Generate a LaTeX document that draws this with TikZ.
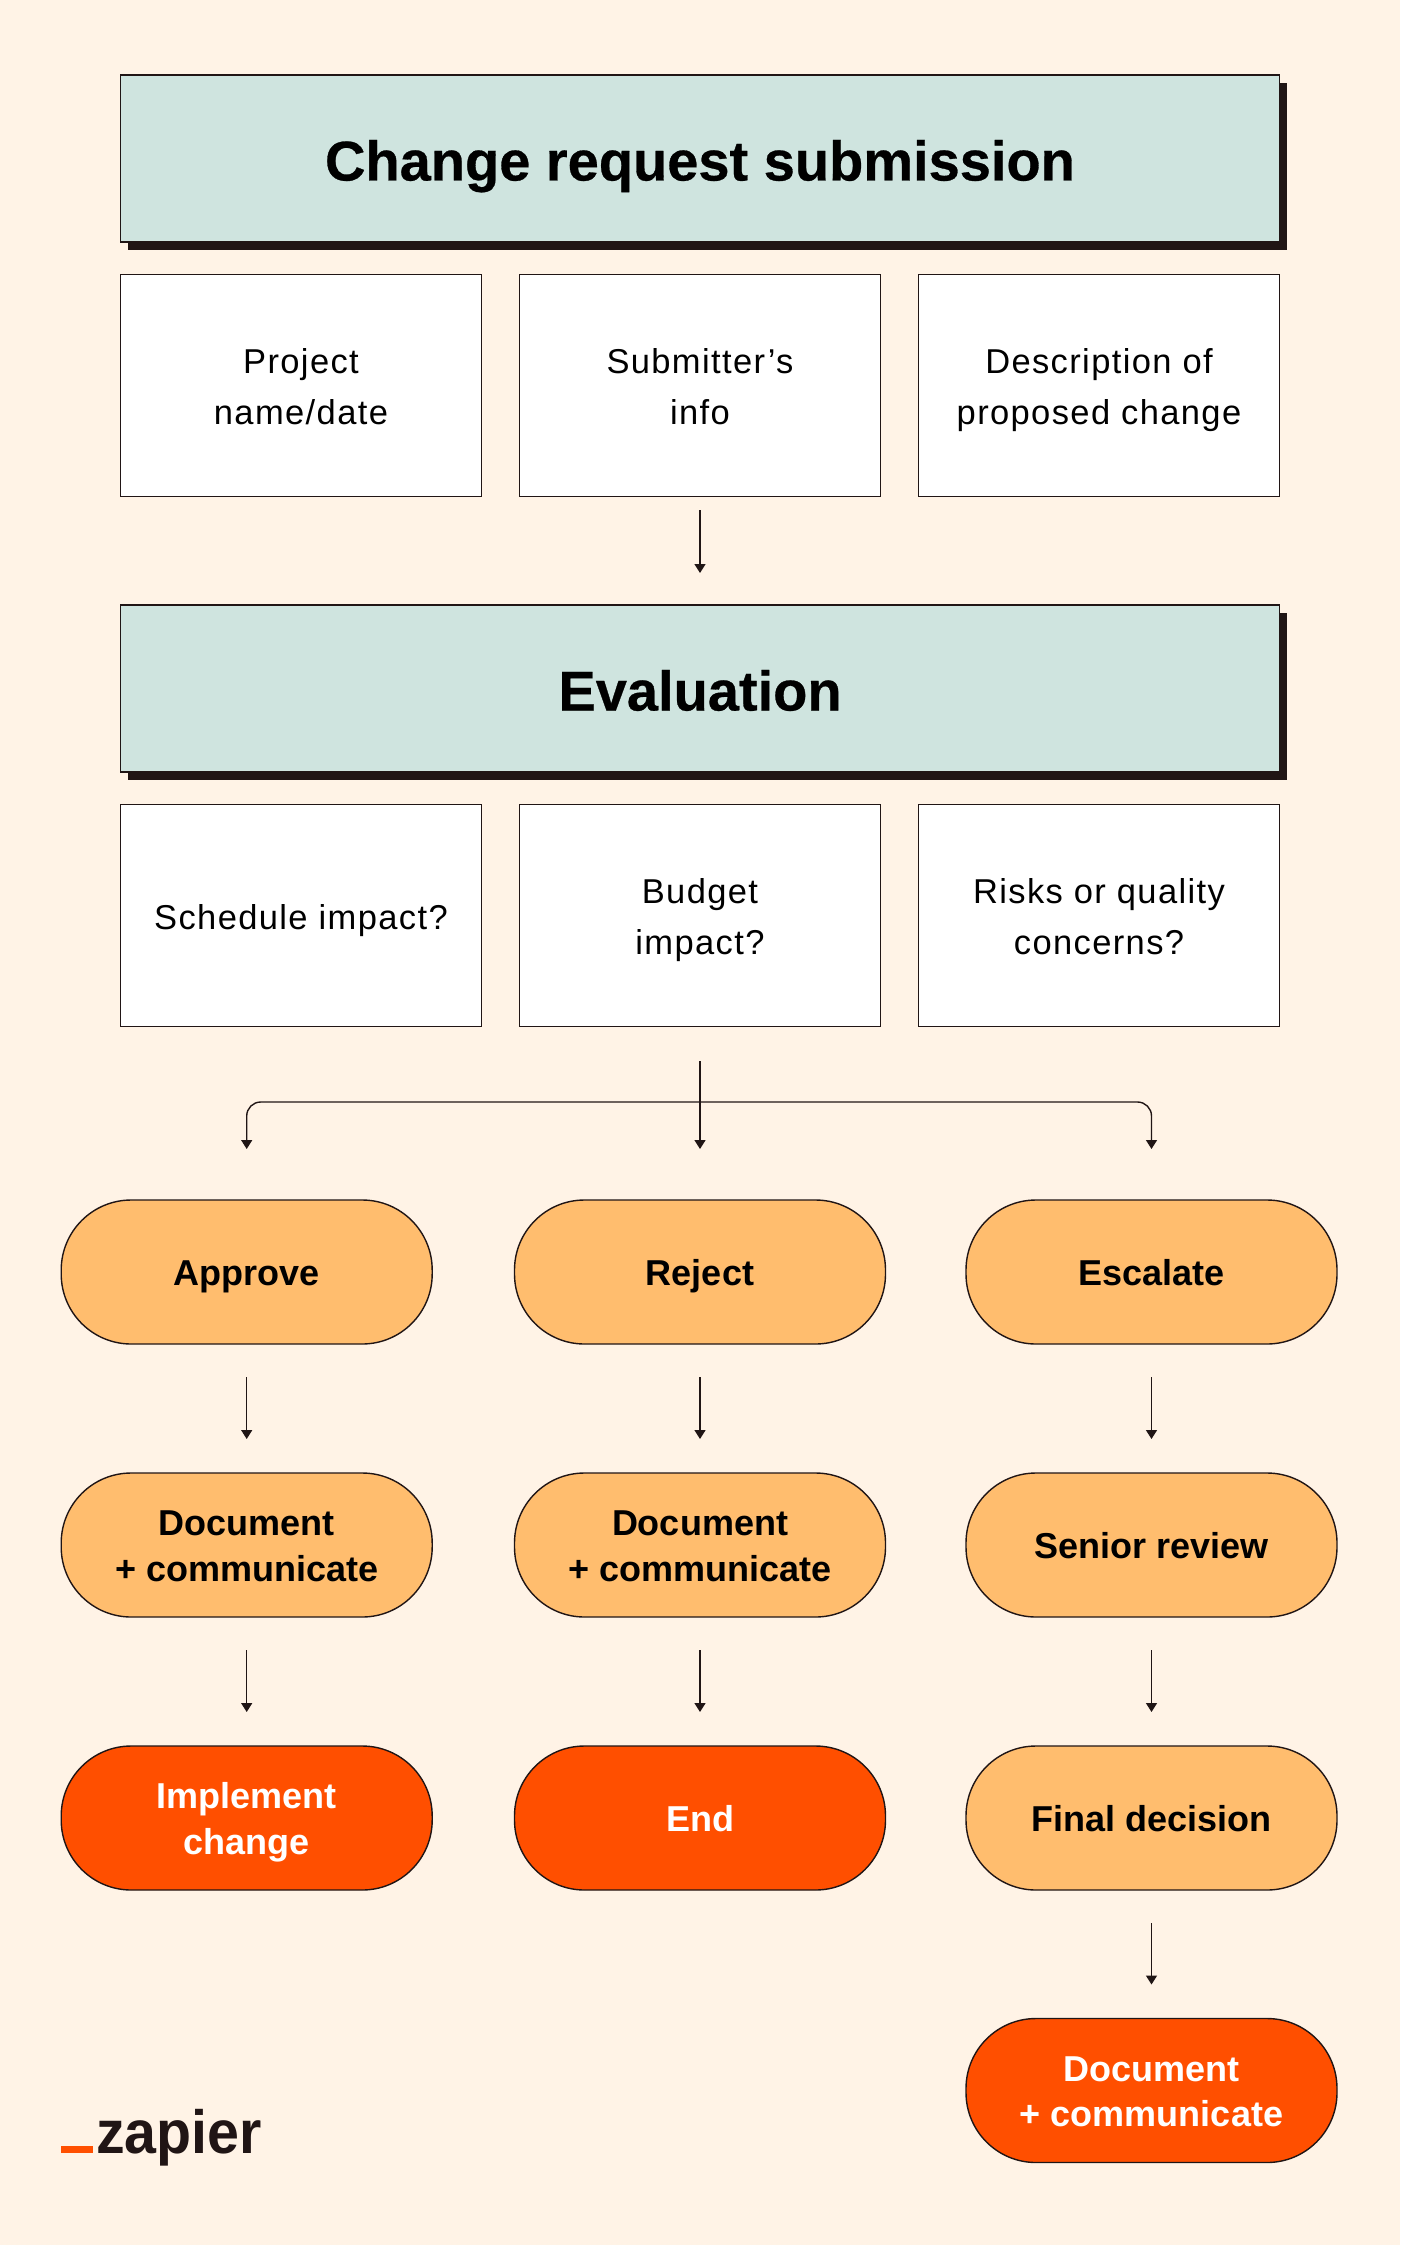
\documentclass[tikz,border=0pt]{standalone}
\usepackage{fontspec}
\setmainfont{Liberation Sans}
\usetikzlibrary{arrows.meta,shadows}
\definecolor{bgc}{HTML}{FFF3E6}
\definecolor{headc}{HTML}{CFE4DF}
\definecolor{pillc}{HTML}{FFBD6E}
\definecolor{hotc}{HTML}{FF4F00}
\definecolor{darkc}{HTML}{201515}
\newcommand{\T}{\rule{0pt}{\Tv}}
\newcommand{\B}{\rule[-\Bv]{0pt}{\Bv}}
\tikzset{
  every node/.style={inner sep=0pt,outer sep=0pt,align=center},
  edge/.style={draw=darkc,line width=1.4pt},
  headbox/.style={edge,fill=headc,minimum width=1159pt,minimum height=167pt,
    font=\fontsize{56}{60}\selectfont\bfseries\addfontfeature{FakeBold=0.5}\def\Tv{56pt}\def\Bv{12pt},
    drop shadow={shadow xshift=7pt,shadow yshift=-8pt,fill=darkc,opacity=1}},
  infobox/.style={edge,fill=white,minimum width=361pt,minimum height=222pt,
    font=\fontsize{34.5}{51}\selectfont\addfontfeature{LetterSpace=4}\def\Tv{39pt}\def\Bv{12pt}},
  pill/.style={edge,fill=pillc,minimum width=371pt,minimum height=144pt,rounded corners=70pt,
    font=\fontsize{36}{45.5}\selectfont\bfseries\def\Tv{35pt}\def\Bv{8pt}},
  hotpill/.style={pill,fill=hotc,text=white},
  link/.style={draw=darkc,line width=1.4pt,-{Triangle[length=9pt,width=11pt]}},
  row/.style={link,shorten <=33pt,shorten >=34pt},
}
\begin{document}
\begin{tikzpicture}[x=1pt,y=-1pt]
\fill[bgc] (0,0) rectangle (1400,2245);
\useasboundingbox (0,0) rectangle (1400,2245);
\node[headbox] (h1) at (700,158.5) {\T Change request submission\B};
\node[infobox] (a1) at (301,385.5) {\T Project\\name/date\B};
\node[infobox] (a2) at (700,385.5) {\T Submitter’s\\info\B};
\node[infobox] (a3) at (1099,385.5) {\T Description of\\proposed change\B};
\node[headbox] (h2) at (700,688.5) {\T Evaluation\B};
\node[infobox] (b1) at (301,915.5) {\T Schedule impact?\B};
\node[infobox] (b2) at (700,915.5) {\T Budget\\impact?\B};
\node[infobox] (b3) at (1099,915.5) {\T Risks or quality\\concerns?\B};
\node[pill] (p1) at (246.7,1272) {\T Approve\B};
\node[pill] (p2) at (700,1272) {\T Reject\B};
\node[pill] (p3) at (1151.5,1272) {\T Escalate\B};
\node[pill] (q1) at (246.7,1545) {\T Document\\+ communicate\B};
\node[pill] (q2) at (700,1545) {\T Document\\+ communicate\B};
\node[pill] (q3) at (1151.5,1545) {\T Senior review\B};
\node[hotpill] (r1) at (246.7,1818) {\T Implement\\change\B};
\node[hotpill] (r2) at (700,1818) {\T End\B};
\node[pill] (r3) at (1151.5,1818) {\T Final decision\B};
\node[hotpill] (s3) at (1151.5,2090.5) {\T Document\\+ communicate\B};
\coordinate (fork) at (700,1102);
\draw[link,shorten <=13.5pt,shorten >=32pt] (a2.south) -- (h2.north);
\draw[link,shorten <=34.5pt,shorten >=51pt] (b2.south) -- (p2.north);
\draw[link,rounded corners=14pt,shorten >=51pt] (fork) -| (p1.north);
\draw[link,rounded corners=14pt,shorten >=51pt] (fork) -| (p3.north);
\foreach \u/\v in {p1/q1,p2/q2,p3/q3,q1/r1,q2/r2,q3/r3,r3/s3}{
  \draw[row] (\u.south) -- (\v.north);
}
\fill[hotc] (61,2145.7) rectangle (93,2153);
\node[anchor=base west,text=darkc,font=\fontsize{61}{61}\selectfont\bfseries,xscale=0.94] (logo) at (96,2153) {zapier};
\end{tikzpicture}
\end{document}
